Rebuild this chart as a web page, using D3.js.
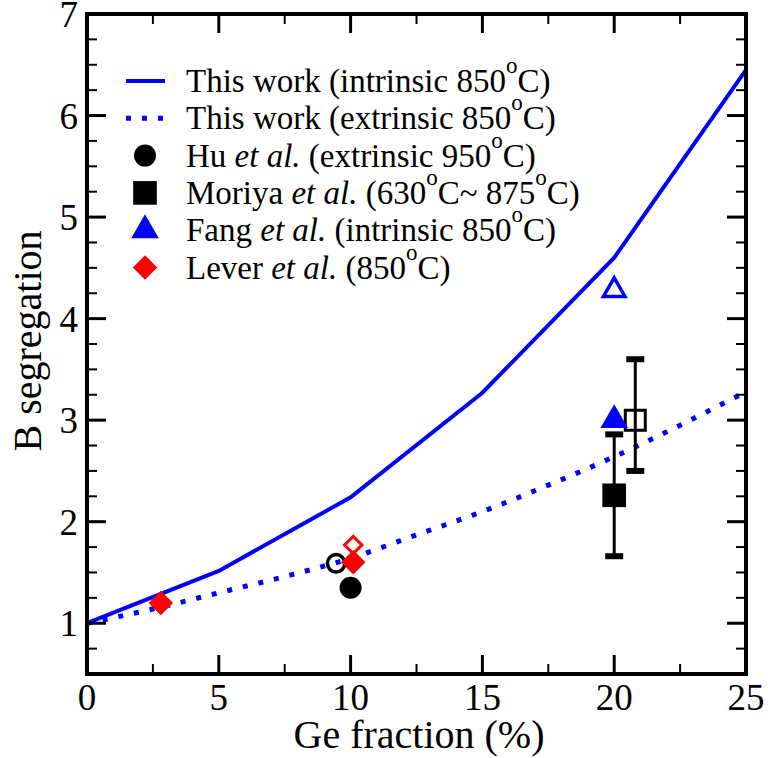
<!DOCTYPE html>
<html>
<head>
<meta charset="utf-8">
<script src="https://cdn.jsdelivr.net/npm/d3@7"></script>
<style>
  html, body { margin: 0; padding: 0; background: #fff; }
  svg { display: block; }
</style>
</head>
<body>
<svg id="chart" width="768" height="758" font-family="'Liberation Serif', 'Times New Roman', 'DejaVu Serif', serif"></svg>
<script>
// Ge fraction (%) and calculated B segregation ratios
const geFraction      = [0, 5, 10, 15, 20, 25];
const intrinsicCalc   = [1.0, 1.515, 2.24, 3.27, 4.6, 6.45];
const extrinsicX      = [0, 2.5, 5, 7.5, 10, 12.5, 15, 17.5, 20, 22.5, 25];
const extrinsicCalc   = [1.0, 1.14, 1.30, 1.46, 1.64, 1.87, 2.10, 2.36, 2.64, 2.95, 3.28];

// Experimental data
const huFilled     = [{x: 10.0, y: 1.35}];
const huOpen       = [{x: 9.45, y: 1.59}];
const moriyaFilled = [{x: 20.0, y: 2.26, lo: 1.66, hi: 2.86}];
const moriyaOpen   = [{x: 20.8, y: 3.0, lo: 2.5, hi: 3.6}];
const fangFilled   = [{x: 20.0, y: 3.0}];
const fangOpen     = [{x: 20.0, y: 4.28}];
const leverFilled  = [{x: 2.8, y: 1.2}, {x: 10.1, y: 1.6}];
const leverOpen    = [{x: 10.1, y: 1.77}];

const xTicks = [0, 5, 10, 15, 20, 25];
const yTicks = [1, 2, 3, 4, 5, 6, 7];

const BLUE = "#0000ff", RED = "#ff0000";

const svg = d3.select("#chart");
const pLeft = 87, pRight = 746, pTop = 14, pBottom = 674;

const x = d3.scaleLinear().domain([0, 25]).range([pLeft, pRight]);
const y = d3.scaleLinear().domain([0.5, 7]).range([pBottom, pTop]);

const plot = svg.append("g");

// Calculated curves
const line = d3.line().x(d => x(d[0])).y(d => y(d[1]));
plot.append("path")
  .datum(geFraction.map((g, i) => [g, intrinsicCalc[i]]))
  .attr("d", line)
  .attr("fill", "none").attr("stroke", BLUE).attr("stroke-width", 4);

plot.append("path")
  .datum(extrinsicX.map((g, i) => [g, extrinsicCalc[i]]))
  .attr("d", line.curve(d3.curveMonotoneX))
  .attr("fill", "none").attr("stroke", BLUE).attr("stroke-width", 5)
  .attr("stroke-dasharray", "5,11");

// Error bars
function errorBars(data) {
  const g = plot.append("g");
  data.forEach(d => {
    g.append("line").attr("x1", x(d.x)).attr("x2", x(d.x))
      .attr("y1", y(d.lo)).attr("y2", y(d.hi))
      .attr("stroke", "#000").attr("stroke-width", 3);
    [d.lo, d.hi].forEach(v => {
      g.append("rect").attr("x", x(d.x) - 9).attr("y", y(v) - 3)
        .attr("width", 18).attr("height", 6).attr("fill", "#000");
    });
  });
}
errorBars(moriyaFilled);
errorBars(moriyaOpen);

// Marker helpers
const sym = (type, size) => d3.symbol().type(type).size(size)();
function markers(data, type, size, fill, stroke, sw, rot) {
  plot.selectAll(null).data(data).enter().append("path")
    .attr("d", sym(type, size))
    .attr("transform", d => `translate(${x(d.x)},${y(d.y)})` + (rot ? ` rotate(${rot})` : ""))
    .attr("fill", fill).attr("stroke", stroke || "none").attr("stroke-width", sw || 0);
}

markers(moriyaFilled, d3.symbolSquare, 560, "#000");
markers(moriyaOpen, d3.symbolSquare, 400, "none", "#000", 3);
markers(huFilled, d3.symbolCircle, 380, "#000");
markers(huOpen, d3.symbolCircle, 240, "none", "#000", 3.5);
markers(fangFilled, d3.symbolTriangle, 330, BLUE);
markers(fangOpen, d3.symbolTriangle, 200, "none", BLUE, 3.5);
markers(leverFilled, d3.symbolSquare, 300, RED, null, 0, 45);
markers(leverOpen, d3.symbolSquare, 150, "none", RED, 3, 45);

// Frame and ticks
const axes = svg.append("g");
function tickSet(vals, scale, orient, len, w) {
  vals.forEach(v => {
    const p = scale(v);
    let a;
    if (orient === "bottom") a = [p, pBottom, p, pBottom - len];
    if (orient === "top")    a = [p, pTop, p, pTop + len];
    if (orient === "left")   a = [pLeft, p, pLeft + len, p];
    if (orient === "right")  a = [pRight, p, pRight - len, p];
    axes.append("line").attr("x1", a[0]).attr("y1", a[1]).attr("x2", a[2]).attr("y2", a[3])
      .attr("stroke", "#000").attr("stroke-width", w);
  });
}
const xMinor = d3.range(2.5, 25, 5);
const yMinor = d3.range(0.75, 7, 0.25).filter(v => Math.abs(v - Math.round(v)) > 0.01);
["bottom", "top"].forEach(o => { tickSet(xTicks, x, o, 19, 3); tickSet(xMinor, x, o, 10, 2); });
["left", "right"].forEach(o => { tickSet(yTicks, y, o, 19, 3); tickSet(yMinor, y, o, 10, 2); });

axes.append("rect").attr("x", pLeft).attr("y", pTop)
  .attr("width", pRight - pLeft).attr("height", pBottom - pTop)
  .attr("fill", "none").attr("stroke", "#000").attr("stroke-width", 4);

// Tick labels
axes.selectAll(null).data(xTicks).enter().append("text")
  .attr("x", d => x(d)).attr("y", pBottom + 36)
  .attr("text-anchor", "middle").attr("font-size", 37).text(d => d);
axes.selectAll(null).data(yTicks).enter().append("text")
  .attr("x", pLeft - 9).attr("y", d => y(d) + 13)
  .attr("text-anchor", "end").attr("font-size", 37).text(d => d);

// Axis titles
svg.append("text").attr("x", 419).attr("y", 748)
  .attr("text-anchor", "middle").attr("font-size", 40).text("Ge fraction (%)");
svg.append("text").attr("transform", "translate(41,341) rotate(-90)")
  .attr("text-anchor", "middle").attr("font-size", 40).text("B segregation");

// Legend
const legendRows = [
  {parts: [["This work (intrinsic 850"], ["o", "sup"], ["C)"]], kind: "solid"},
  {parts: [["This work (extrinsic 850"], ["o", "sup"], ["C)"]], kind: "dotted"},
  {parts: [["Hu "], ["et al.", "it"], [" (extrinsic 950"], ["o", "sup"], ["C)"]], kind: "circle"},
  {parts: [["Moriya "], ["et al.", "it"], [" (630"], ["o", "sup"], ["C~ 875"], ["o", "sup"], ["C)"]], kind: "square"},
  {parts: [["Fang "], ["et al.", "it"], [" (intrinsic 850"], ["o", "sup"], ["C)"]], kind: "triangle"},
  {parts: [["Lever "], ["et al.", "it"], [" (850"], ["o", "sup"], ["C)"]], kind: "diamond"}
];
const legend = svg.append("g");
const legX = 145, legY0 = 81, legDy = 37.3, textX = 186;
legendRows.forEach((r, i) => {
  const cy = legY0 + i * legDy;
  if (r.kind === "solid" || r.kind === "dotted") {
    legend.append("line").attr("x1", 126).attr("x2", 165).attr("y1", cy).attr("y2", cy)
      .attr("stroke", BLUE).attr("stroke-width", r.kind === "solid" ? 4 : 5)
      .attr("stroke-dasharray", r.kind === "dotted" ? "5,11" : null);
  } else {
    const spec = {
      circle:   [d3.symbolCircle, 380, "#000", 0],
      square:   [d3.symbolSquare, 560, "#000", 0],
      triangle: [d3.symbolTriangle, 330, BLUE, 0],
      diamond:  [d3.symbolSquare, 300, RED, 45]
    }[r.kind];
    legend.append("path").attr("d", sym(spec[0], spec[1]))
      .attr("transform", `translate(${legX},${cy}) rotate(${spec[3]})`)
      .attr("fill", spec[2]);
  }
  const t = legend.append("text").attr("x", textX).attr("y", cy + 11).attr("font-size", 33);
  let prevSup = false;
  r.parts.forEach(p => {
    const ts = t.append("tspan").text(p[0]);
    if (p[1] === "it") ts.attr("font-style", "italic");
    if (p[1] === "sup") ts.attr("font-size", 23).attr("dy", -19);
    else if (prevSup) ts.attr("dy", 19);
    prevSup = p[1] === "sup";
  });
});
</script>
</body>
</html>
